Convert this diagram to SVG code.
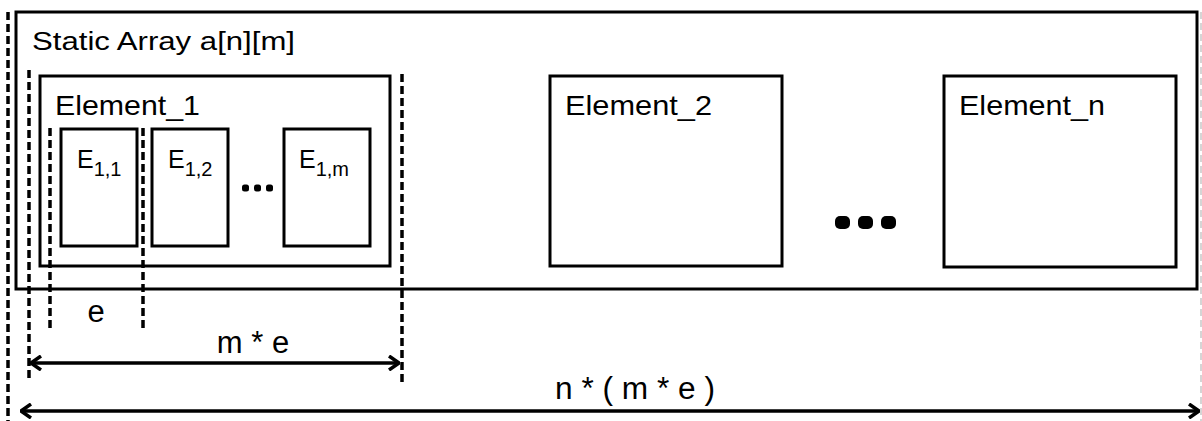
<svg xmlns="http://www.w3.org/2000/svg" width="1202" height="421" viewBox="0 0 1202 421">
<style>
.box{fill:#fff;stroke:#000;stroke-width:3}
.dash{fill:none;stroke:#000;stroke-width:3.5;stroke-dasharray:8 4}
.gdash{fill:none;stroke:#c8c8c8;stroke-width:1.5;stroke-dasharray:7 4}
.t{font-family:"Liberation Sans",Arial,sans-serif;fill:#000}
.arr{fill:none;stroke:#000;stroke-width:3.5}
.dot{fill:#000}
</style>
<defs>
<marker id="ah" viewBox="0 0 12 16" refX="11" refY="8" markerWidth="12" markerHeight="16" markerUnits="userSpaceOnUse" orient="auto-start-reverse">
<path d="M1,1 L11,8 L1,15" fill="none" stroke="#000" stroke-width="3.5"/>
</marker>
</defs>
<g id="static-array">
<rect class="box" x="16" y="12" width="1181" height="277"/>
<text class="t" x="32" y="50" font-size="26" textLength="263" lengthAdjust="spacingAndGlyphs">Static Array a[n][m]</text>
</g>
<g id="element-1">
<rect class="box" x="40" y="76" width="350" height="190"/>
<text class="t" x="55" y="115" font-size="28" textLength="145" lengthAdjust="spacingAndGlyphs">Element_1</text>
</g>
<g id="e11">
<rect class="box" x="61" y="129" width="76" height="117"/>
<text class="t" x="77" y="168" font-size="25">E<tspan font-size="20" dy="8">1,1</tspan></text>
</g>
<g id="e12">
<rect class="box" x="152" y="129" width="76" height="117"/>
<text class="t" x="168" y="168" font-size="25">E<tspan font-size="20" dy="8">1,2</tspan></text>
</g>
<g id="e1m">
<rect class="box" x="284" y="129" width="86" height="117"/>
<text class="t" x="299" y="168" font-size="25">E<tspan font-size="20" dy="8">1,m</tspan></text>
</g>
<g id="dots-small">
<rect class="dot" x="242" y="184.5" width="7" height="7" rx="2.5"/>
<rect class="dot" x="254" y="184.5" width="7" height="7" rx="2.5"/>
<rect class="dot" x="266" y="184.5" width="7" height="7" rx="2.5"/>
</g>
<g id="element-2">
<rect class="box" x="550" y="76" width="232" height="190"/>
<text class="t" x="565" y="115" font-size="28" textLength="147" lengthAdjust="spacingAndGlyphs">Element_2</text>
</g>
<g id="dots-large">
<rect class="dot" x="835" y="216" width="15" height="13" rx="5"/>
<rect class="dot" x="858" y="216" width="15" height="13" rx="5"/>
<rect class="dot" x="881" y="216" width="15" height="13" rx="5"/>
</g>
<g id="element-n">
<rect class="box" x="944" y="76" width="232" height="191"/>
<text class="t" x="959" y="115" font-size="28" textLength="146" lengthAdjust="spacingAndGlyphs">Element_n</text>
</g>
<g id="connectors">
<line class="dash" x1="8" y1="12" x2="8" y2="421"/>
<line class="gdash" x1="1201" y1="12" x2="1201" y2="421"/>
<line class="dash" x1="29" y1="70" x2="29" y2="378"/>
<line class="dash" x1="402" y1="74" x2="402" y2="382"/>
<line class="dash" x1="50" y1="128" x2="50" y2="328"/>
<line class="dash" x1="143" y1="128" x2="143" y2="328"/>
<line class="arr" x1="31" y1="363" x2="399" y2="363" marker-start="url(#ah)" marker-end="url(#ah)"/>
<line class="arr" x1="21" y1="411" x2="1199" y2="411" marker-start="url(#ah)" marker-end="url(#ah)"/>
</g>
<g id="labels">
<text class="t" x="96" y="322" font-size="31" text-anchor="middle">e</text>
<text class="t" x="253" y="353" font-size="31" text-anchor="middle">m * e</text>
<text class="t" x="635" y="399" font-size="31" text-anchor="middle" textLength="160" lengthAdjust="spacingAndGlyphs">n * ( m * e )</text>
</g>
</svg>
